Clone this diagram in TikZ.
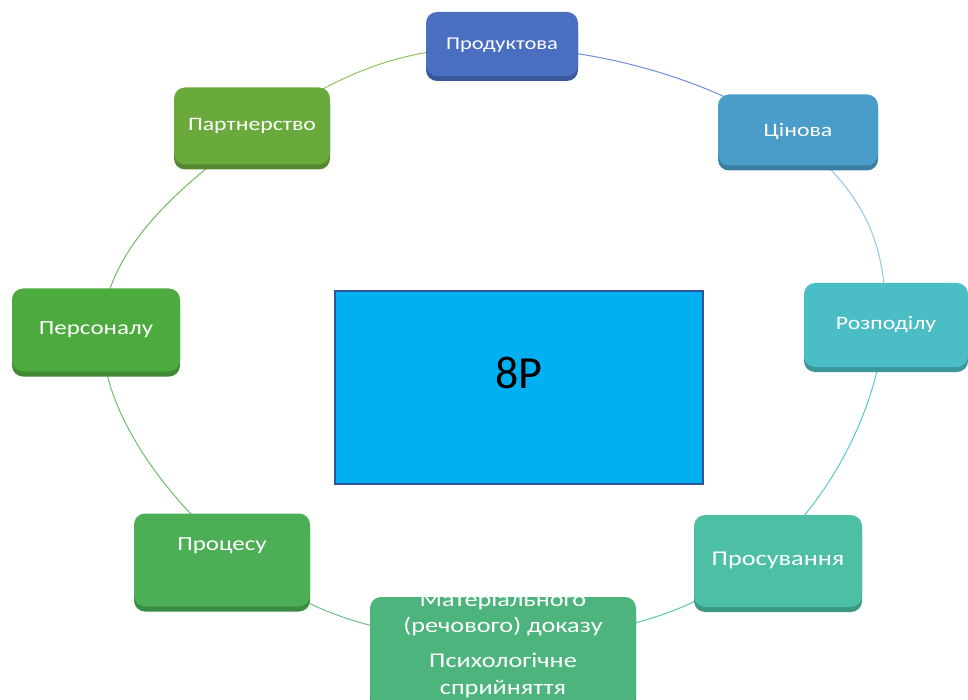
\documentclass[tikz,border=0pt]{standalone}
\usepackage{fontspec}
\setmainfont{Carlito}
\newfontfamily\widefont[FakeStretch=1.25]{Carlito}
\usetikzlibrary{shadows,backgrounds}
\definecolor{cProd}{HTML}{4A6FC1}
\definecolor{cCin}{HTML}{4A9CC9}
\definecolor{cRoz}{HTML}{4BBDC4}
\definecolor{cPros}{HTML}{4CBFA4}
\definecolor{cMat}{HTML}{4DB47D}
\definecolor{cProc}{HTML}{4CAF55}
\definecolor{cPers}{HTML}{4DAA3E}
\definecolor{cPart}{HTML}{6AAA3C}
\definecolor{cCore}{HTML}{00B0F0}
\definecolor{cCoreLine}{HTML}{2F5597}
\definecolor{r1}{HTML}{6E8FD8}
\definecolor{r2}{HTML}{8CC8E8}
\definecolor{r3}{HTML}{5CC6CE}
\definecolor{r4}{HTML}{5CC8A8}
\definecolor{r5}{HTML}{6CC08A}
\definecolor{r6}{HTML}{6ABF6A}
\definecolor{r7}{HTML}{72BA62}
\definecolor{r8}{HTML}{8CC460}
\newcommand\zb[2]{\raisebox{#1}[0pt][0pt]{#2}}
\begin{document}
\begin{tikzpicture}[x=1pt,y=-1pt,
  pbox/.style={rounded corners=11pt, fill=#1, inner sep=0pt,
    general shadow={fill=#1!80!black, shadow yshift=-5pt},
    text=white},
  ring/.style={line width=1pt, draw=#1}]
\clip (0,0) rectangle (968,700);
\useasboundingbox (0,0) rectangle (968,700);

% ring pass points
\coordinate (q1) at (502,47);
\coordinate (q2) at (791,135);
\coordinate (q3) at (884,327);
\coordinate (q4) at (759,561);
\coordinate (q5) at (501,639);
\coordinate (q6) at (247,565);
\coordinate (q7) at (102,330);
\coordinate (q8) at (262,127);

\draw[ring=r1] (q1) .. controls +(100,1.5) and +(-72,-53) .. (q2);
\draw[ring=r2] (q2) .. controls +(72,53) and +(6,-80) .. (q3);
\draw[ring=r3] (q3) .. controls +(-6,80) and +(72,-59) .. (q4);
\draw[ring=r4] (q4) .. controls +(-72,59) and +(97,-1) .. (q5);
\draw[ring=r5] (q5) .. controls +(-97,1) and +(75,58) .. (q6);
\draw[ring=r6] (q6) .. controls +(-75,-58) and +(-3,83) .. (q7);
\draw[ring=r7] (q7) .. controls +(3,-83) and +(-76,53) .. (q8);
\draw[ring=r8] (q8) .. controls +(76,-53) and +(-100,-1.5) .. (q1);

% outer boxes
\node[pbox=cProd, minimum width=152, minimum height=64,
  font=\widefont\fontsize{18}{22}\selectfont] (n1) at (502,44) {\zb{-6pt}{Продуктова}};
\node[pbox=cCin, minimum width=160, minimum height=71,
  font=\widefont\fontsize{19}{22}\selectfont] (n2) at (798,130) {\zb{-7pt}{Цінова}};
\node[pbox=cRoz, minimum width=164, minimum height=84,
  font=\widefont\fontsize{19}{22}\selectfont] (n3) at (886,325) {\zb{-4pt}{Розподілу}};
\node[pbox=cPros, minimum width=168, minimum height=92,
  font=\widefont\fontsize{21}{24}\selectfont] (n4) at (778,561) {\zb{-4pt}{Просування}};
\node[pbox=cMat, minimum width=266, minimum height=110,
  font=\widefont\fontsize{21}{27}\selectfont] (n5) at (503,652)
  {\zb{1.5pt}{\begin{tabular}{@{}c@{}}Матеріального\\[-1pt](речового) доказу\\[8pt]Психологічне\\сприйняття\end{tabular}}};
\node[pbox=cProc, minimum width=176, minimum height=93,
  font=\widefont\fontsize{20}{24}\selectfont] (n6) at (222,560) {\zb{10pt}{Процесу}};
\node[pbox=cPers, minimum width=168, minimum height=83,
  font=\widefont\fontsize{20}{24}\selectfont] (n7) at (96,330) {\zb{-4pt}{Персоналу}};
\node[pbox=cPart, minimum width=156, minimum height=77,
  font=\widefont\fontsize{19}{22}\selectfont] (n8) at (252,126) {\zb{-5pt}{Партнерство}};

% core
\node[draw=cCoreLine, line width=2pt, fill=cCore, minimum width=368, minimum height=193,
  inner sep=0pt, font=\fontsize{46}{50}\selectfont] (core) at (519,387.5) {\zb{-1pt}{8P}};
\end{tikzpicture}
\end{document}
